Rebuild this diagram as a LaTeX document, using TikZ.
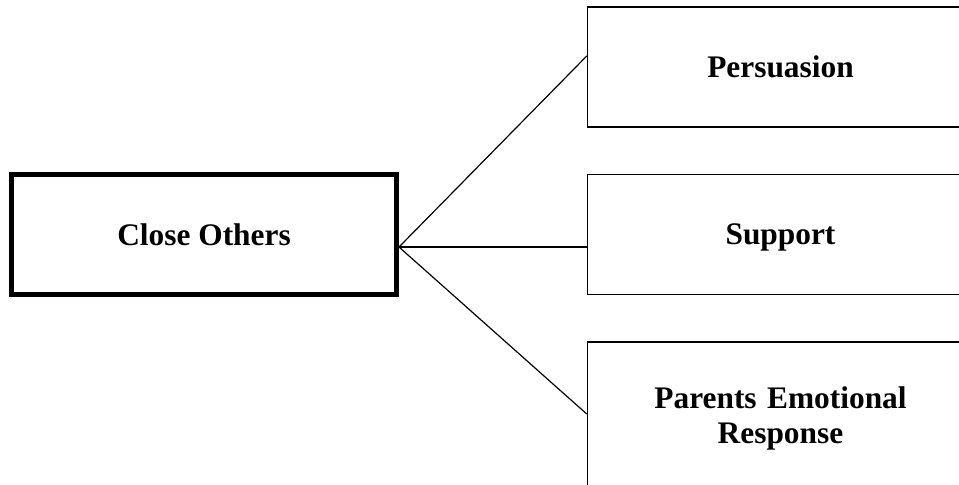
\documentclass[tikz,border=0pt]{standalone}
\usepackage{fontspec}
\setmainfont{Liberation Serif}
\usepackage{tikz}
\usetikzlibrary{positioning}
\tikzset{
  myline/.style={
    draw=black,
    line width=1.2bp,
  },
  mybigbox/.style={
    draw=black,
    shape=rectangle,
    line width=5bp,
    align=center,
    inner sep=0pt,
    minimum width=385bp,
    minimum height=120bp,
    font=\fontsize{31.5}{35}\selectfont\bfseries
  },
  mybox/.style={
    draw=black,
    shape=rectangle,
    line width=1.5bp,
    align=center,
    inner sep=0pt,
    text width=370bp,
    text depth=0pt,
    minimum width=386bp,
    minimum height=120bp,
    font=\fontsize{31.5}{35}\selectfont\bfseries
  }
}
\begin{document}
\begin{tikzpicture}[node distance=46bp]
    \useasboundingbox (0,0) rectangle (959bp,-485bp);
    \clip (0,0) rectangle (959bp,-485bp);

    \node[mybigbox] (close) at (204bp,-234.5bp) {Close Others};
    \node[mybox] (support) [right=187.75bp of close] {Support};
    \node[mybox] (persuasion) [above=of support] {Persuasion};
    \node[mybox, minimum height=144bp, text depth=32bp] (parents) [below=of support] {Parents Emotional\\Response};

    \draw[myline] ([yshift=-12.5bp]close.east) -- ([yshift=11bp]persuasion.west);
    \draw[myline] ([yshift=-12.5bp]close.east) -- ([yshift=-12.5bp]support.west);
    \draw[myline] ([yshift=-12.5bp]close.east) -- (parents.west);
\end{tikzpicture}
\end{document}
